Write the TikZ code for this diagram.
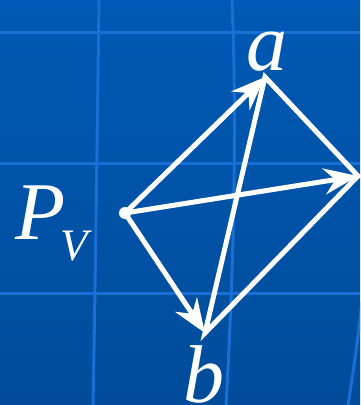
\documentclass[tikz,border=0pt]{standalone}
\usepackage{fontspec}
\setmainfont{Liberation Serif}
\usetikzlibrary{arrows.meta}
\definecolor{bgtop}{RGB}{0,89,180}
\definecolor{bgbot}{RGB}{0,76,154}
\definecolor{gridc}{RGB}{24,112,214}
\begin{document}
\begin{tikzpicture}[x=1pt,y=-1pt,
  vec/.style={draw=white, line width=5pt, -{Stealth[length=34pt,width=26pt,inset=11pt]}},
  edge/.style={draw=white, line width=5pt, line join=miter},
  gridline/.style={draw=gridc, line width=3pt},
  lbl/.style={text=white, font=\fontsize{82}{82}\selectfont\itshape, inner sep=0pt}]
\path[use as bounding box, top color=bgtop, bottom color=bgbot] (0,0) rectangle (360,405);
\begin{scope}
\clip (0,0) rectangle (360,405);
\draw[gridline] (0,32) -- (360,32);
\draw[gridline] (0,163) -- (360,163);
\draw[gridline] (0,293) -- (360,293);
\draw[gridline] (99,0) .. controls (97,150) and (95,300) .. (93,405);
\draw[gridline] (232,0) .. controls (238,140) and (232,300) .. (226,405);
\draw[gridline] (362,300) .. controls (358,340) and (352,380) .. (348,405);
\end{scope}
\node[circle, fill=white, minimum size=12pt, inner sep=0pt] (pv) at (125,213) {};
\coordinate (a) at (265,77);
\coordinate (r) at (358,176);
\coordinate (b) at (205,333);
\draw[edge] (b) -- (a) -- (r) -- cycle;
\draw[vec] (pv.center) -- (a);
\draw[vec] (pv.center) -- (r);
\draw[vec] (pv.center) -- (b);
\node[lbl, anchor=base] (la) at (267,70) {a};
\node[lbl, anchor=base] (lb) at (204,402) {b};
\node[lbl, anchor=base west] (lp) at (15,239) {P\kern-5pt\raisebox{-21pt}{\fontsize{45}{45}\selectfont V}};
\end{tikzpicture}
\end{document}
